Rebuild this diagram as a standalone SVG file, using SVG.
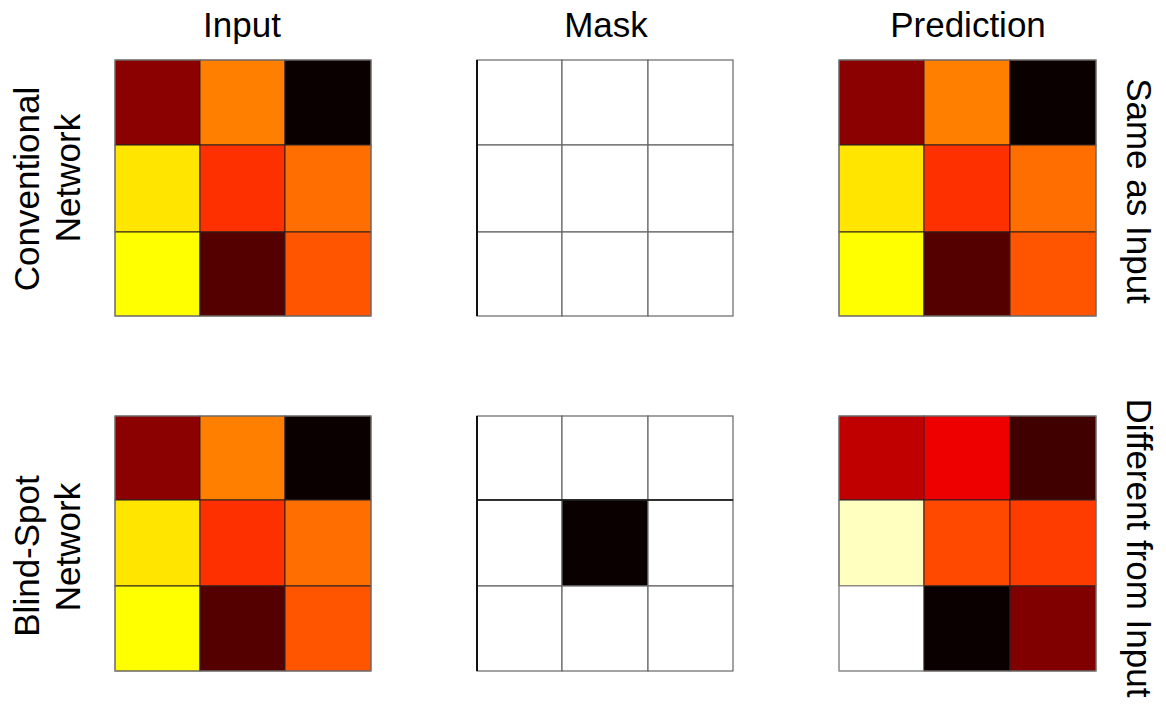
<svg xmlns="http://www.w3.org/2000/svg" width="1166" height="705" viewBox="0 0 1166 705">
<style>
text{font-family:"Liberation Sans",Arial,sans-serif;font-size:35px;fill:#000}
.h{text-anchor:middle}
.c{stroke:#2a2020;stroke-width:1}
.m{fill:#fff;stroke:#666;stroke-width:1.2}
.b{fill:none;stroke:#8a8a8a;stroke-width:1}
</style>
<rect width="1166" height="705" fill="#fff"/>
<g id="headers">
<text class="h" x="242" y="37">Input</text>
<text class="h" x="606" y="37">Mask</text>
<text class="h" x="968" y="37">Prediction</text>
</g>
<g id="row-labels">
<text class="h" transform="translate(39,189) rotate(-90)">Conventional</text>
<text class="h" transform="translate(80,178) rotate(-90)">Network</text>
<text class="h" transform="translate(39,556) rotate(-90)">Blind-Spot</text>
<text class="h" transform="translate(80,547) rotate(-90)">Network</text>
<text class="h" transform="translate(1127,191) rotate(90)">Same as Input</text>
<text class="h" transform="translate(1127,548) rotate(90)">Different from Input</text>
</g>
<g id="input-conventional">
<rect class="c" x="115" y="60" width="85" height="85" fill="#8b0000"/>
<rect class="c" x="200" y="60" width="85" height="85" fill="#ff8000"/>
<rect class="c" x="285" y="60" width="86" height="85" fill="#0a0000"/>
<rect class="c" x="115" y="145" width="85" height="87" fill="#ffe500"/>
<rect class="c" x="200" y="145" width="85" height="87" fill="#ff3000"/>
<rect class="c" x="285" y="145" width="86" height="87" fill="#ff6e00"/>
<rect class="c" x="115" y="232" width="85" height="84" fill="#ffff00"/>
<rect class="c" x="200" y="232" width="85" height="84" fill="#550000"/>
<rect class="c" x="285" y="232" width="86" height="84" fill="#ff5500"/>
<rect class="b" x="115" y="60" width="256" height="256"/>
</g>
<g id="mask-conventional">
<rect class="m" x="477" y="60" width="85" height="85"/>
<rect class="m" x="562" y="60" width="86" height="85"/>
<rect class="m" x="648" y="60" width="85" height="85"/>
<rect class="m" x="477" y="145" width="85" height="87"/>
<rect class="m" x="562" y="145" width="86" height="87"/>
<rect class="m" x="648" y="145" width="85" height="87"/>
<rect class="m" x="477" y="232" width="85" height="84"/>
<rect class="m" x="562" y="232" width="86" height="84"/>
<rect class="m" x="648" y="232" width="85" height="84"/>
<line x1="477" y1="60" x2="477" y2="316" stroke="#111" stroke-width="2"/>
</g>
<g id="prediction-conventional">
<rect class="c" x="839" y="60" width="85" height="85" fill="#8b0000"/>
<rect class="c" x="924" y="60" width="86" height="85" fill="#ff8000"/>
<rect class="c" x="1010" y="60" width="86" height="85" fill="#0a0000"/>
<rect class="c" x="839" y="145" width="85" height="87" fill="#ffe500"/>
<rect class="c" x="924" y="145" width="86" height="87" fill="#ff3000"/>
<rect class="c" x="1010" y="145" width="86" height="87" fill="#ff6e00"/>
<rect class="c" x="839" y="232" width="85" height="84" fill="#ffff00"/>
<rect class="c" x="924" y="232" width="86" height="84" fill="#550000"/>
<rect class="c" x="1010" y="232" width="86" height="84" fill="#ff5500"/>
<rect class="b" x="839" y="60" width="257" height="256"/>
</g>
<g id="input-blindspot">
<rect class="c" x="115" y="416" width="85" height="84" fill="#8b0000"/>
<rect class="c" x="200" y="416" width="85" height="84" fill="#ff8000"/>
<rect class="c" x="285" y="416" width="86" height="84" fill="#0a0000"/>
<rect class="c" x="115" y="500" width="85" height="86" fill="#ffe500"/>
<rect class="c" x="200" y="500" width="85" height="86" fill="#ff3000"/>
<rect class="c" x="285" y="500" width="86" height="86" fill="#ff6e00"/>
<rect class="c" x="115" y="586" width="85" height="85" fill="#ffff00"/>
<rect class="c" x="200" y="586" width="85" height="85" fill="#550000"/>
<rect class="c" x="285" y="586" width="86" height="85" fill="#ff5500"/>
<rect class="b" x="115" y="416" width="256" height="255"/>
</g>
<g id="mask-blindspot">
<rect class="m" x="477" y="416" width="85" height="84"/>
<rect class="m" x="562" y="416" width="86" height="84"/>
<rect class="m" x="648" y="416" width="85" height="84"/>
<rect class="m" x="477" y="500" width="85" height="86"/>
<rect class="m" x="562" y="500" width="86" height="86" fill="#0a0000" style="fill:#0a0000"/>
<rect class="m" x="648" y="500" width="85" height="86"/>
<rect class="m" x="477" y="586" width="85" height="85"/>
<rect class="m" x="562" y="586" width="86" height="85"/>
<rect class="m" x="648" y="586" width="85" height="85"/>
<line x1="477" y1="500" x2="733" y2="500" stroke="#111" stroke-width="1.5"/>
<line x1="477" y1="416" x2="477" y2="671" stroke="#111" stroke-width="2"/>
</g>
<g id="prediction-blindspot">
<rect class="c" x="839" y="416" width="85" height="84" fill="#c00000"/>
<rect class="c" x="924" y="416" width="86" height="84" fill="#ee0000"/>
<rect class="c" x="1010" y="416" width="86" height="84" fill="#400000"/>
<rect class="c" x="839" y="500" width="85" height="86" fill="#ffffc0"/>
<rect class="c" x="924" y="500" width="86" height="86" fill="#ff4800"/>
<rect class="c" x="1010" y="500" width="86" height="86" fill="#ff3c00"/>
<rect class="c" x="839" y="586" width="85" height="85" fill="#ffffff" style="stroke:#888"/>
<rect class="c" x="924" y="586" width="86" height="85" fill="#0a0000"/>
<rect class="c" x="1010" y="586" width="86" height="85" fill="#800000"/>
<rect class="b" x="839" y="416" width="257" height="255"/>
</g>
</svg>
